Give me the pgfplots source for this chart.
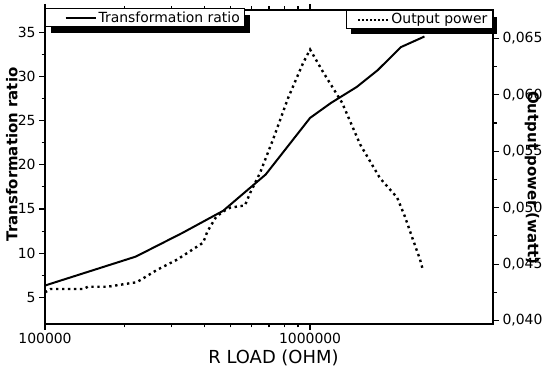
\documentclass[border=0pt]{standalone}
\usepackage{fontspec}
\setmainfont{DejaVu Sans}
\usepackage{pgfplots}
\pgfplotsset{compat=1.18}
\usetikzlibrary{shadows}

\makeatletter
\tikzset{no preactions/.code={\let\tikz@preactions\pgfutil@empty}}
\makeatother

\pgfplotstableread{
x y
100000 6.35
220000 9.62
330000 12.3
470000 14.8
680000 18.9
1000000 25.3
1200000 27.0
1500000 28.8
1800000 30.7
2200000 33.3
2700000 34.5
}\ratio

\pgfplotstableread{
x y
100000 0.0425
105000 0.0428
140000 0.0428
145000 0.0430
172000 0.0430
222000 0.0434
265000 0.0445
315000 0.0454
395000 0.0469
410000 0.0479
440000 0.0491
465000 0.0496
500000 0.0500
568000 0.0502
594000 0.0513
648000 0.0531
724000 0.0560
826000 0.0597
941000 0.0628
1000000 0.0640
1120000 0.0620
1320000 0.0593
1545000 0.0556
1837000 0.0526
2130000 0.0509
2280000 0.0492
2425000 0.0474
2600000 0.0454
2670000 0.0444
}\power

\tikzset{legbox/.style={draw=black, line width=1.2pt, fill=white,
    general shadow={fill=black, shadow xshift=5bp, shadow yshift=-6bp},
    font=\fontsize{14}{16}\selectfont, inner xsep=3bp, inner ysep=1bp}}

\begin{document}
\begin{tikzpicture}
\begin{axis}[name=a,
  scale only axis, width=448bp, height=314bp,
  xmode=log, xmin=1e5, xmax=4.9e6,
  tick align=outside,
  major tick length=6bp, minor tick length=3.5bp,
  every tick/.style={black, line width=1.2pt},
  axis line style={line width=2pt},
  tick label style={font=\fontsize{14}{16}\selectfont},
  /pgf/number format/assume math mode=true,
  legend image code/.code={\path[no preactions, draw=none, fill=none] (0bp,-3bp) rectangle (47bp,3bp); \draw[no preactions, fill=none, #1] (17bp,0bp) -- (47bp,0bp);},
  legend cell align=left,
  ymin=2, ymax=37.5, ytick={5,10,15,20,25,30,35}, minor y tick num=1,
  ytick pos=left, xtick pos=both, xticklabel pos=lower,
  xtick={100000,1000000}, xticklabels={100000,1000000},
  xlabel={R LOAD (OHM)},
  xlabel style={at={(axis description cs:0.51,-0.108)}, anchor=center, font=\fontsize{18}{20}\selectfont},
  ylabel={Transformation ratio},
  every axis y label/.style={at={(axis description cs:-0.074,0.54)}, anchor=center, rotate=90, font=\bfseries\fontsize{15}{17}\selectfont},
  legend style={legbox, at={(axis description cs:0,1.006)}, anchor=north west},
]
\addplot[black, line width=2pt] table[x=x,y=y] {\ratio};
\addlegendentry{Transformation ratio}
\end{axis}
\begin{axis}[
  scale only axis, width=448bp, height=314bp,
  xmode=log, xmin=1e5, xmax=4.9e6,
  tick align=outside,
  major tick length=6bp, minor tick length=3.5bp,
  every tick/.style={black, line width=1.2pt},
  axis line style={line width=2pt},
  tick label style={font=\fontsize{14}{16}\selectfont},
  /pgf/number format/assume math mode=true,
  legend image code/.code={\path[no preactions, draw=none, fill=none] (0bp,-3bp) rectangle (39bp,3bp); \draw[no preactions, fill=none, #1, line width=2pt, dash pattern=on 2pt off 2pt] (9bp,0bp) -- (39bp,0bp);},
  legend cell align=left,
  axis x line=none, axis y line*=right, ytick pos=right,
  ymin=0.0397, ymax=0.0675,
  ytick={0.040,0.045,0.050,0.055,0.060,0.065}, minor y tick num=1,
  scaled y ticks=false,
  yticklabel style={/pgf/number format/.cd, fixed, fixed zerofill, precision=3, use comma},
  ylabel={Output power (watt)},
  every axis y label/.style={at={(axis description cs:1.087,0.465)}, anchor=center, rotate=-90, font=\bfseries\fontsize{15}{17}\selectfont},
  legend style={legbox, at={(axis description cs:1,1)}, anchor=north east},
]
\addplot[black, line width=2.4pt, dash pattern=on 2.4pt off 3.6pt] table[x=x,y=y] {\power};
\addlegendentry{Output power}
\end{axis}
\pgfresetboundingbox
\path ([xshift=-45bp,yshift=-46bp]a.south west) rectangle ([xshift=49bp,yshift=10bp]a.north east);
\end{tikzpicture}
\end{document}
